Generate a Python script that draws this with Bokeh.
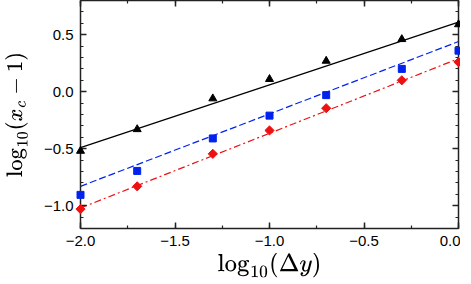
import numpy as np
from bokeh.plotting import figure
from bokeh.models import Range1d, LinearAxis, SingleIntervalTicker, CustomJSTickFormatter
from bokeh.embed import file_html
from bokeh.resources import INLINE

# data
log_dy = [-2.0, -1.7, -1.3, -1.0, -0.7, -0.3, 0.0]
tri_y = [-0.52, -0.33, -0.06, 0.11, 0.27, 0.46, 0.59]
sq_y = [-0.905, -0.695, -0.41, -0.21, -0.03, 0.20, 0.36]
dia_y = [-1.03, -0.83, -0.545, -0.34, -0.145, 0.10, 0.26]

# linear fits: y = intercept + slope * x
fit_intercept = [0.61, 0.44, 0.29]
fit_slope = [0.55, 0.635, 0.655]

x_ticks_interval = 0.5
y_ticks_interval = 0.5

p = figure(width=460, height=280, output_backend="svg", toolbar_location=None,
           x_range=Range1d(-2.0, 0.0), y_range=Range1d(-1.2, 0.8),
           min_border_left=80, min_border_right=2, min_border_top=0,
           min_border_bottom=51, x_axis_location=None, y_axis_location=None)
p.grid.visible = False
p.outline_line_color = None
p.background_fill_color = "white"

fmt = CustomJSTickFormatter(code="return tick.toFixed(1).replace('-', '\u2212');")
blank = CustomJSTickFormatter(code="return '';")

def style(ax, labels=True):
    ax.axis_line_color = "#222222"
    ax.axis_line_width = 1.5
    ax.major_tick_in = 6
    ax.major_tick_out = 0
    ax.minor_tick_in = 3
    ax.minor_tick_out = 0
    ax.major_tick_line_color = "#222222"
    ax.minor_tick_line_color = "#222222"
    ax.major_tick_line_width = 1.5
    ax.minor_tick_line_width = 1.2
    ax.major_label_text_font = "Liberation Sans"
    ax.major_label_text_font_size = "15px"
    ax.major_label_text_color = "black"
    ax.axis_label_text_font_style = "normal"
    ax.axis_label_text_color = "black"
    ax.axis_label_text_font_size = "20px"
    if not labels:
        ax.major_label_standoff = 0

xt = lambda: SingleIntervalTicker(interval=x_ticks_interval, num_minor_ticks=2)
yt = lambda: SingleIntervalTicker(interval=y_ticks_interval, num_minor_ticks=5)

bottom = LinearAxis(ticker=xt(), formatter=fmt, axis_label=r"$$\log_{10}(\Delta y)$$")
style(bottom)
bottom.major_label_standoff = 7
bottom.axis_label_standoff = 4
left = LinearAxis(ticker=yt(), formatter=fmt, axis_label=r"$$\log_{10}(x_c - 1)$$")
style(left)
left.major_label_standoff = 7
left.axis_label_standoff = 13
left.axis_label_text_font_size = "19px"
top = LinearAxis(ticker=xt(), formatter=blank)
style(top, labels=False)
right = LinearAxis(ticker=yt(), formatter=blank)
style(right, labels=False)

p.add_layout(bottom, "below")
p.add_layout(left, "left")
p.add_layout(top, "above")
p.add_layout(right, "right")

xs = np.array([min(log_dy), max(log_dy)])
colors = ["black", "#0022ee", "#ee1111"]
dashes = ["solid", "7 3", "7 3 2 3"]
for b, m, c, d in zip(fit_intercept, fit_slope, colors, dashes):
    p.line(xs, b + m * xs, line_color=c, line_width=1.2, line_dash=d)

p.scatter(log_dy, tri_y, marker="triangle", size=8, color="black", level="overlay")
p.scatter(log_dy, sq_y, marker="square", size=7, color="#0022ee", level="overlay")
p.scatter(log_dy, dia_y, marker="square", angle=np.pi / 4, size=6.5, color="#ee1111",
          level="overlay")

open("out.html", "w").write(file_html(p, INLINE))
